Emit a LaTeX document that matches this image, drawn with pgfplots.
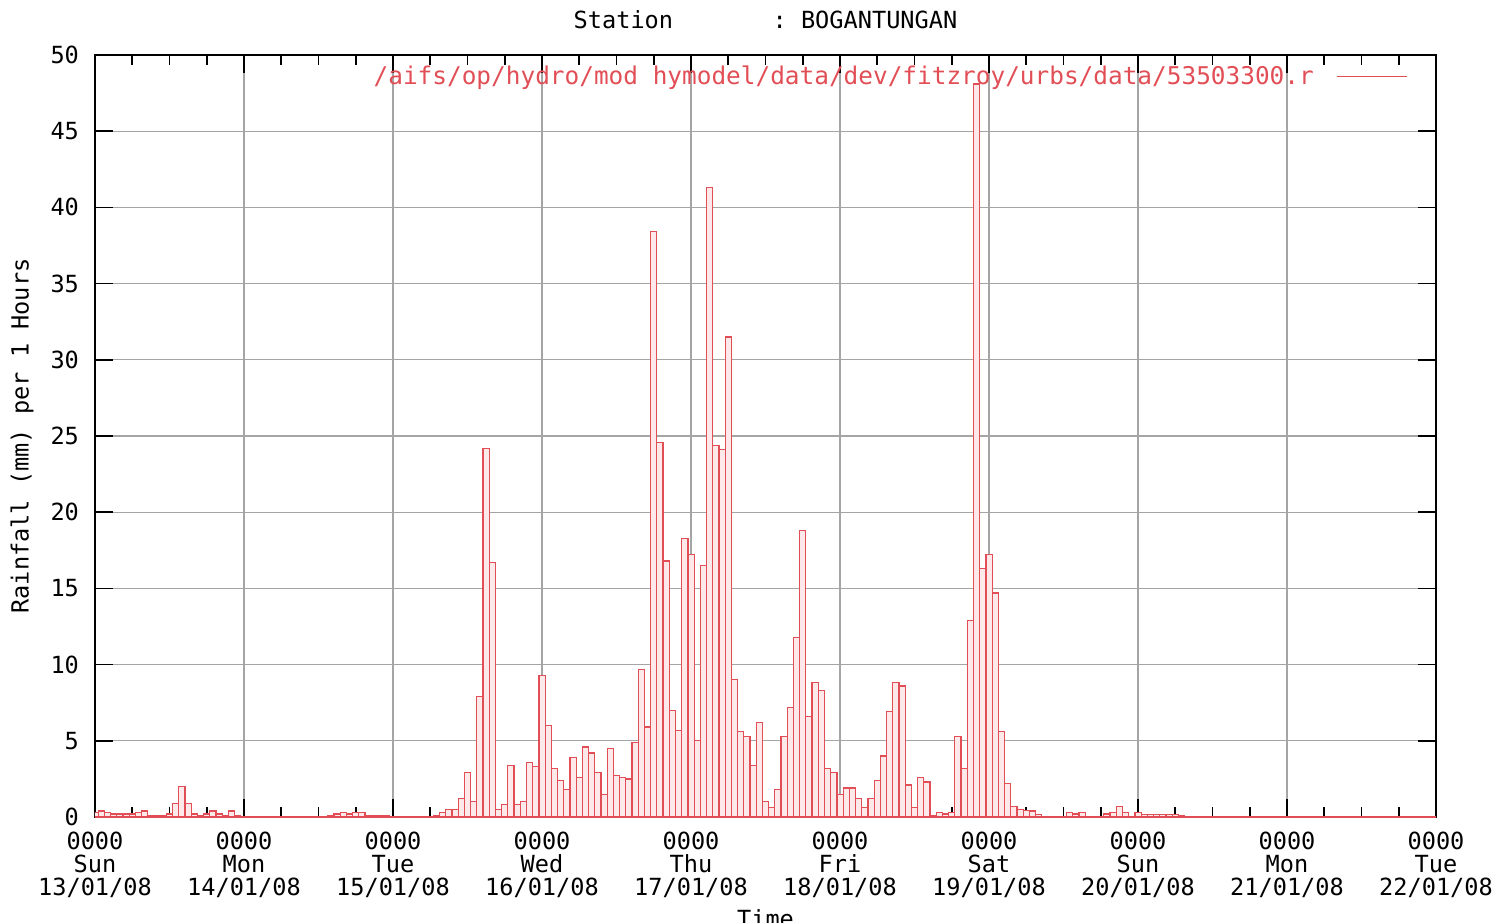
\documentclass[border=0pt]{standalone}
\usepackage{fontspec}
\setmonofont{DejaVu Sans Mono}
\usepackage{pgfplots}
\pgfplotsset{compat=1.18}
\definecolor{barred}{RGB}{226,78,86}
\definecolor{barfill}{RGB}{253,233,234}
\definecolor{gridgray}{RGB}{165,165,165}
\newcommand{\gfont}{\fontsize{11.8}{11.5}\selectfont\ttfamily}

\begin{document}
\begin{tikzpicture}
\useasboundingbox (-47.5pt,-52.5pt) rectangle (698.5pt,408.5pt);
\clip (-47.5pt,-52.5pt) rectangle (698.5pt,408.5pt);
\begin{axis}[
  at={(0,0)}, anchor=south west,
  width=670.5pt, height=381pt, scale only axis,
  xmin=0, xmax=216, ymin=0, ymax=50,
  xtick={0,24,...,216},
  xticklabels={{0000\\Sun\\13/01/08},{0000\\Mon\\14/01/08},{0000\\Tue\\15/01/08},
    {0000\\Wed\\16/01/08},{0000\\Thu\\17/01/08},{0000\\Fri\\18/01/08},
    {0000\\Sat\\19/01/08},{0000\\Sun\\20/01/08},{0000\\Mon\\21/01/08},
    {0000\\Tue\\22/01/08}},
  minor x tick num=3,
  ytick={0,5,...,50},
  grid=major,
  major grid style={gridgray, line width=0.6pt},
  axis line style={black, line width=1pt},
  tick style={black, line width=0.8pt},
  major tick length=9pt, minor tick length=5pt,
  tick align=inside,
  xticklabel style={font=\gfont, align=center, yshift=-4pt},
  yticklabel style={font=\gfont, xshift=-4.5pt},
  /pgf/number format/assume math mode=true,
  title={Station\ \ \ \ \ \ \ :\ BOGANTUNGAN},
  title style={font=\gfont, at={(axis description cs:0.5,1)}, anchor=center, yshift=11.5pt},
  xlabel={Time},
  every axis x label/.style={at={(axis description cs:0.5,0)}, anchor=north, yshift=-42.5pt, font=\gfont},
  ylabel={Rainfall (mm) per 1 Hours},
  every axis y label/.style={at={(axis description cs:-0.0544,0.5)}, rotate=90, anchor=center, font=\gfont},
  legend plot pos=right,
  legend style={draw=none, fill=none, at={(rel axis cs:0.979,0.972)}, anchor=east,
    font=\fontsize{12.2}{12}\selectfont\ttfamily, text=barred, inner sep=0pt, column sep=9pt},
]
\addplot[ybar, bar width=1, draw=barred, fill=barfill, line width=0.6pt,
  legend image code/.code={\draw[barred, line width=0.8pt] (0pt,0pt) -- (35pt,0pt);}]
coordinates {
(0,0.3)(1,0.4)(2,0.3)(3,0.2)(4,0.2)(5,0.2)(6,0.2)(7,0.3)(8,0.4)(9,0.1)(10,0.1)(11,0.1)
(12,0.2)(13,0.9)(14,2.0)(15,0.9)(16,0.2)(17,0.1)(18,0.2)(19,0.4)(20,0.2)(21,0.1)(22,0.4)(23,0.1)
(24,0)(25,0)(26,0)(27,0)(28,0)(29,0)(30,0)(31,0)(32,0)(33,0)(34,0)(35,0)(36,0)(37,0)
(38,0.1)(39,0.2)(40,0.3)(41,0.2)(42,0.3)(43,0.3)(44,0.1)(45,0.1)(46,0.1)(47,0.1)
(48,0)(49,0)(50,0)(51,0)(52,0)(53,0)(54,0)
(55,0.1)(56,0.3)(57,0.5)(58,0.5)(59,1.2)(60,2.9)(61,1.0)(62,7.9)(63,24.2)(64,16.7)(65,0.5)
(66,0.8)(67,3.4)(68,0.8)(69,1.0)(70,3.6)(71,3.3)
(72,9.3)(73,6.0)(74,3.2)(75,2.4)(76,1.8)(77,3.9)(78,2.6)(79,4.6)(80,4.2)(81,2.9)(82,1.5)
(83,4.5)(84,2.7)(85,2.6)(86,2.5)(87,4.9)(88,9.7)(89,5.9)(90,38.4)(91,24.6)(92,16.8)(93,7.0)
(94,5.7)(95,18.3)
(96,17.2)(97,5.0)(98,16.5)(99,41.3)(100,24.4)(101,24.1)(102,31.5)(103,9.0)(104,5.6)(105,5.3)
(106,3.4)(107,6.2)(108,1.0)(109,0.6)(110,1.8)(111,5.3)(112,7.2)(113,11.8)(114,18.8)(115,6.6)
(116,8.8)(117,8.3)(118,3.2)(119,2.9)
(120,1.5)(121,1.9)(122,1.9)(123,1.2)(124,0.6)(125,1.2)(126,2.4)(127,4.0)(128,6.9)(129,8.8)
(130,8.6)(131,2.1)(132,0.6)(133,2.6)(134,2.3)(135,0.1)(136,0.3)(137,0.2)(138,0.3)(139,5.3)
(140,3.2)(141,12.9)(142,48.1)(143,16.3)
(144,17.2)(145,14.7)(146,5.6)(147,2.2)(148,0.7)(149,0.5)(150,0.45)(151,0.4)(152,0.15)
(153,0.05)(154,0.05)(155,0.05)(156,0)(157,0.3)(158,0.2)(159,0.3)(160,0)(161,0)(162,0)
(163,0.2)(164,0.3)(165,0.7)(166,0.3)(167,0)
(168,0.3)(169,0.15)(170,0.15)(171,0.15)(172,0.15)(173,0.15)(174,0.15)(175,0.1)
(176,0)(177,0)(178,0)(179,0)(180,0)(181,0)(182,0)(183,0)(184,0)(185,0)(186,0)(187,0)
(188,0)(189,0)(190,0)(191,0)(192,0)(193,0)(194,0)(195,0)(196,0)(197,0)(198,0)(199,0)
(200,0)(201,0)(202,0)(203,0)(204,0)(205,0)(206,0)(207,0)(208,0)(209,0)(210,0)(211,0)
(212,0)(213,0)(214,0)(215,0)(216,0)
};
\addlegendentry{/aifs/op/hydro/mod hymodel/data/dev/fitzroy/urbs/data/53503300.r}
\end{axis}
\end{tikzpicture}
\end{document}
